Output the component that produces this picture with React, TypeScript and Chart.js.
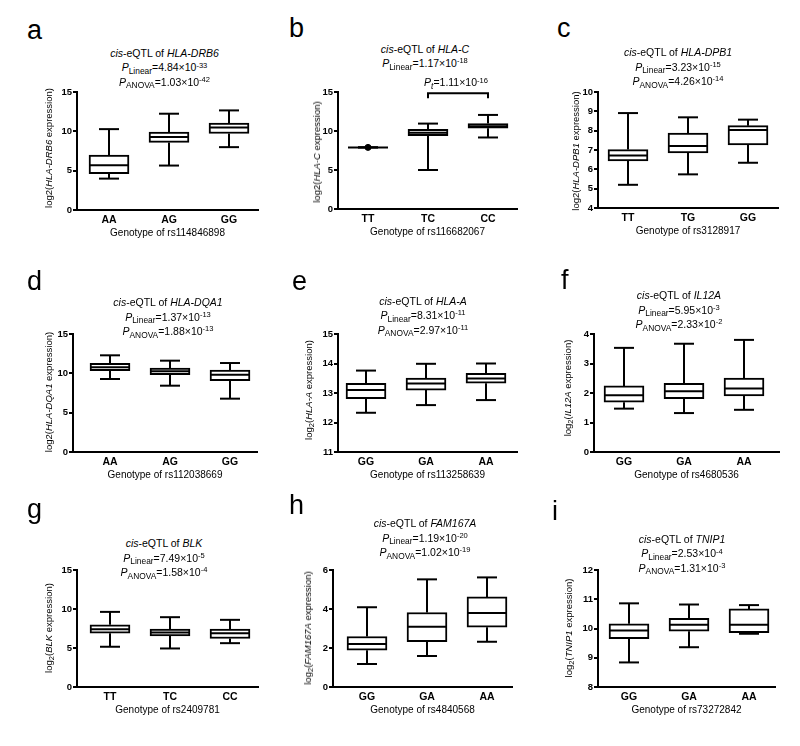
import React, { useEffect, useRef } from 'react';
import { Chart, registerables } from 'chart.js';
Chart.register(...registerables);

const FONT = '"Liberation Sans", Arial, Helvetica, sans-serif';

// ---------- data: five-number summaries [min, q1, median, q3, max] ----------
const A_GENO = ['AA', 'AG', 'GG'];
const A_BOX = [[3.99, 4.63, 5.69, 6.97, 10.28], [5.65, 8.59, 9.27, 9.9, 12.24], [7.99, 9.73, 10.5, 11.05, 12.66]];
const B_GENO = ['TT', 'TC', 'CC'];
const B_BOX = [[7.9, 7.9, 7.9, 7.9, 7.9], [5.0, 9.4, 9.77, 10.2, 10.95], [9.17, 10.36, 10.6, 10.95, 12.06]];
const B_POINTS = [{ x: 0, y: 7.9 }];
const B_BRACKET = [1, 2, 14.85, 14.2]; // from, to, level, leg end
const C_GENO = ['TT', 'TG', 'GG'];
const C_BOX = [[5.2, 6.43, 6.71, 7.02, 8.91], [5.74, 6.85, 7.21, 7.88, 8.69], [6.34, 7.26, 8.03, 8.26, 8.57]];
const D_GENO = ['AA', 'AG', 'GG'];
const D_BOX = [[9.28, 10.34, 10.76, 11.27, 12.29], [8.43, 9.83, 10.25, 10.68, 11.61], [6.78, 9.07, 9.83, 10.42, 11.31]];
const E_GENO = ['GG', 'GA', 'AA'];
const E_BOX = [[12.33, 12.81, 13.1, 13.33, 13.76], [12.59, 13.1, 13.32, 13.51, 13.99], [12.76, 13.33, 13.49, 13.67, 14.0]];
const F_GENO = ['GG', 'GA', 'AA'];
const F_BOX = [[1.47, 1.69, 1.92, 2.24, 3.53], [1.32, 1.81, 2.06, 2.33, 3.67], [1.43, 1.9, 2.15, 2.51, 3.8]];
const G_GENO = ['TT', 'TC', 'CC'];
const G_BOX = [[5.16, 6.9, 7.41, 7.97, 9.63], [4.94, 6.56, 6.99, 7.41, 8.95], [5.62, 6.22, 6.9, 7.41, 8.61]];
const H_GENO = ['GG', 'GA', 'AA'];
const H_BOX = [[1.18, 1.89, 2.2, 2.59, 4.09], [1.59, 2.32, 3.09, 3.82, 5.52], [2.32, 3.07, 3.8, 4.62, 5.62]];
const I_GENO = ['GG', 'GA', 'AA'];
const I_BOX = [[8.84, 9.65, 9.93, 10.16, 10.86], [9.36, 9.91, 10.13, 10.35, 10.82], [9.82, 9.86, 10.13, 10.67, 10.8]];

// y-axis ranges [min, max, step]
const A_Y = [0, 15, 5];
const B_Y = [0, 15, 5];
const C_Y = [4, 10, 1];
const D_Y = [0, 15, 5];
const E_Y = [11, 15, 1];
const F_Y = [0, 4, 1];
const G_Y = [0, 15, 5];
const H_Y = [0, 6, 2];
const I_Y = [8, 12, 1];

// ---------- layout ----------
const CAT_PX = 60;
const BOX_W = 40;
const CAP_W = 20;
const YW = 45;
const XH = 40;
const PT = 12;
const PR = 8;
const LINE_STEP = 14.3;

const PANELS: any[] = [
  { key: 'a', geno: A_GENO, box: A_BOX, yr: A_Y, l: 77, r: 258, t: 92, b: 210, cat0: 109, xTitle: 'Genotype of rs114846898', gene: 'HLA-DRB6', logSub: false, tcx: 164.5, tbase: 56.7, pl: ['4.84×10', '-33'], pa: ['1.03×10', '-42'], lx: 27, lb: 40, ycx: 49, ycy: 148 },
  { key: 'b', geno: B_GENO, box: B_BOX, yr: B_Y, l: 338, r: 517, t: 92, b: 209, cat0: 368, xTitle: 'Genotype of rs116682067', gene: 'HLA-C', logSub: false, tcx: 425, tbase: 52.5, pl: ['1.17×10', '-18'], pa: null, lx: 289, lb: 38, ycx: 316.5, ycy: 152, points: B_POINTS, bracket: B_BRACKET, pt: ['1.11×10', '-16'], ptcx: 456, ptbase: 86 },
  { key: 'c', geno: C_GENO, box: C_BOX, yr: C_Y, l: 598, r: 778, t: 92, b: 208, cat0: 628, xTitle: 'Genotype of rs3128917', gene: 'HLA-DPB1', logSub: false, tcx: 678, tbase: 56, pl: ['3.23×10', '-15'], pa: ['4.26×10', '-14'], lx: 557, lb: 38, ycx: 576, ycy: 151 },
  { key: 'd', geno: D_GENO, box: D_BOX, yr: D_Y, l: 73, r: 257, t: 334, b: 452, cat0: 110, xTitle: 'Genotype of rs112038669', gene: 'HLA-DQA1', logSub: false, tcx: 168, tbase: 306, pl: ['1.37×10', '-13'], pa: ['1.88×10', '-13'], lx: 27, lb: 291, ycx: 49, ycy: 392 },
  { key: 'e', geno: E_GENO, box: E_BOX, yr: E_Y, l: 338, r: 517, t: 334, b: 452, cat0: 366, xTitle: 'Genotype of rs113258639', gene: 'HLA-A', logSub: true, tcx: 423, tbase: 304.5, pl: ['8.31×10', '-11'], pa: ['2.97×10', '-11'], lx: 292, lb: 291, ycx: 309, ycy: 390 },
  { key: 'f', geno: F_GENO, box: F_BOX, yr: F_Y, l: 594, r: 779, t: 334, b: 452, cat0: 624, xTitle: 'Genotype of rs4680536', gene: 'IL12A', logSub: true, tcx: 679, tbase: 299, pl: ['5.95×10', '-3'], pa: ['2.33×10', '-2'], lx: 561, lb: 290, ycx: 567.5, ycy: 388 },
  { key: 'g', geno: G_GENO, box: G_BOX, yr: G_Y, l: 77, r: 258, t: 570, b: 687, cat0: 110, xTitle: 'Genotype of rs2409781', gene: 'BLK', logSub: true, tcx: 164, tbase: 547, pl: ['7.49×10', '-5'], pa: ['1.58×10', '-4'], lx: 27, lb: 519, ycx: 49, ycy: 628 },
  { key: 'h', geno: H_GENO, box: H_BOX, yr: H_Y, l: 333, r: 512, t: 570, b: 687, cat0: 367, xTitle: 'Genotype of rs4840568', gene: 'FAM167A', logSub: true, tcx: 425, tbase: 527, pl: ['1.19×10', '-20'], pa: ['1.02×10', '-19'], lx: 289, lb: 515, ycx: 308, ycy: 627.5 },
  { key: 'i', geno: I_GENO, box: I_BOX, yr: I_Y, l: 598, r: 775, t: 570, b: 687, cat0: 629, xTitle: 'Genotype of rs73272842', gene: 'TNIP1', logSub: true, tcx: 682, tbase: 542.7, pl: ['2.53×10', '-4'], pa: ['1.31×10', '-3'], lx: 552, lb: 521, ycx: 569, ycy: 628 },
];

function BoxChart({ p }: { p: any }) {
  const ref = useRef<HTMLCanvasElement>(null);
  const W = YW + (p.r - p.l) + PR;
  const H = PT + (p.b - p.t) + XH;
  useEffect(() => {
    const canvas = ref.current!;
    const xmin = -(p.cat0 - p.l) / CAT_PX;
    const xmax = xmin + (p.r - p.l) / CAT_PX;
    const whiskers = {
      id: 'whiskers',
      afterDatasetsDraw(chart: any) {
        const { ctx } = chart;
        const xs = chart.scales.x;
        const ys = chart.scales.y;
        const Y = (v: number) => ys.getPixelForValue(v);
        const seg = (x1: number, y1: number, x2: number, y2: number) => {
          ctx.beginPath();
          ctx.moveTo(x1, y1);
          ctx.lineTo(x2, y2);
          ctx.stroke();
        };
        ctx.save();
        ctx.strokeStyle = '#000';
        ctx.lineWidth = 2;
        ctx.lineCap = 'butt';
        p.box.forEach((s: number[], i: number) => {
          const [mn, q1, md, q3, mx] = s;
          const cx = Math.round(xs.getPixelForValue(i));
          seg(cx, Y(q3), cx, Y(mx));
          seg(cx - CAP_W / 2, Y(mx), cx + CAP_W / 2, Y(mx));
          seg(cx, Y(q1), cx, Y(mn));
          seg(cx - CAP_W / 2, Y(mn), cx + CAP_W / 2, Y(mn));
          seg(cx - BOX_W / 2, Y(md), cx + BOX_W / 2, Y(md));
        });
        if (p.bracket) {
          const [from, to, lvl, leg] = p.bracket;
          const x1 = Math.round(xs.getPixelForValue(from));
          const x2 = Math.round(xs.getPixelForValue(to));
          ctx.beginPath();
          ctx.moveTo(x1, Y(leg));
          ctx.lineTo(x1, Y(lvl));
          ctx.lineTo(x2, Y(lvl));
          ctx.lineTo(x2, Y(leg));
          ctx.stroke();
        }
        ctx.restore();
      },
    };
    const datasets: any[] = [
      {
        type: 'bar',
        data: p.box.map((s: number[], i: number) => ({ x: i, y: [s[1], s[3]] })),
        backgroundColor: '#fff',
        borderColor: '#000',
        borderWidth: 2,
        borderSkipped: false,
        barThickness: BOX_W,
      },
    ];
    if (p.points) {
      datasets.push({
        type: 'scatter',
        data: p.points,
        pointRadius: 3,
        backgroundColor: '#000',
        borderColor: '#000',
      });
    }
    const chart = new Chart(canvas, {
      type: 'bar',
      data: { datasets },
      options: {
        responsive: false,
        animation: false,
        devicePixelRatio: 1,
        events: [],
        layout: { padding: { left: 0, top: PT, right: PR, bottom: 0 } },
        plugins: { legend: { display: false }, tooltip: { enabled: false }, title: { display: false } },
        scales: {
          x: {
            type: 'linear',
            min: xmin,
            max: xmax,
            offset: false,
            afterBuildTicks: (s: any) => {
              s.ticks = p.geno.map((_: string, i: number) => ({ value: i }));
            },
            afterFit: (s: any) => {
              s.height = XH;
            },
            ticks: {
              callback: (_v: any, i: number) => p.geno[i],
              font: { family: FONT, size: 10.5, weight: 'bold' },
              color: '#000',
              padding: 4,
              maxRotation: 0,
              autoSkip: false,
            },
            grid: { display: false, drawTicks: false },
            border: { display: true, color: '#000', width: 2 },
            title: {
              display: true,
              text: p.xTitle,
              color: '#000',
              font: { family: FONT, size: 10 },
              padding: { top: 0, bottom: XH - 23 - 6 },
            },
          },
          y: {
            type: 'linear',
            min: p.yr[0],
            max: p.yr[1],
            afterFit: (s: any) => {
              s.width = YW;
            },
            ticks: {
              stepSize: p.yr[2],
              font: { family: FONT, size: 9.5, weight: 'bold' },
              color: '#000',
              padding: 1,
            },
            grid: { display: true, drawOnChartArea: false, drawTicks: true, tickLength: 4, color: '#000', lineWidth: 2 },
            border: { display: true, color: '#000', width: 2 },
          },
        },
      } as any,
      plugins: [whiskers],
    });
    return () => chart.destroy();
  }, []);
  return (
    <canvas
      ref={ref}
      width={W}
      height={H}
      style={{ position: 'absolute', left: p.l - YW, top: p.t - PT, width: W, height: H }}
    />
  );
}

const Sub = ({ children }: any) => (
  <span style={{ fontSize: '0.8em', position: 'relative', top: '0.3em', lineHeight: 0 }}>{children}</span>
);
const Sup = ({ children }: any) => (
  <span style={{ fontSize: '0.72em', position: 'relative', top: '-0.5em', lineHeight: 0 }}>{children}</span>
);

function TextLine({ cx, base, children }: any) {
  return (
    <div
      style={{
        position: 'absolute',
        left: cx - 150,
        width: 300,
        top: base - 10.6,
        textAlign: 'center',
        fontSize: 10.5,
        lineHeight: '14px',
        whiteSpace: 'nowrap',
      }}
    >
      {children}
    </div>
  );
}

function Overlay({ p }: { p: any }) {
  return (
    <>
      <div style={{ position: 'absolute', left: p.lx, top: p.lb - 22.8, fontSize: 27, lineHeight: '27px' }}>{p.key}</div>
      <TextLine cx={p.tcx} base={p.tbase}>
        <i>cis</i>-eQTL of <i>{p.gene}</i>
      </TextLine>
      <TextLine cx={p.tcx} base={p.tbase + LINE_STEP}>
        <i>P</i>
        <Sub>Linear</Sub>={p.pl[0]}
        <Sup>{p.pl[1]}</Sup>
      </TextLine>
      {p.pa && (
        <TextLine cx={p.tcx} base={p.tbase + 2 * LINE_STEP}>
          <i>P</i>
          <Sub>ANOVA</Sub>={p.pa[0]}
          <Sup>{p.pa[1]}</Sup>
        </TextLine>
      )}
      {p.pt && (
        <TextLine cx={p.ptcx} base={p.ptbase}>
          <i>P</i>
          <Sub>
            <i>t</i>
          </Sub>
          ={p.pt[0]}
          <Sup>{p.pt[1]}</Sup>
        </TextLine>
      )}
      <div
        style={{
          position: 'absolute',
          left: p.ycx,
          top: p.ycy,
          transform: 'translate(-50%, -50%) rotate(-90deg)',
          whiteSpace: 'nowrap',
          fontSize: 9.5,
          lineHeight: '12px',
        }}
      >
        {p.logSub ? (
          <>
            log<Sub>2</Sub>(
          </>
        ) : (
          'log2('
        )}
        <i>{p.gene}</i> expression)
      </div>
    </>
  );
}

export default function App() {
  return (
    <div
      style={{
        position: 'absolute',
        left: 0,
        top: 0,
        width: 800,
        height: 746,
        overflow: 'hidden',
        background: '#fff',
        color: '#000',
        fontFamily: FONT,
      }}
    >
      {PANELS.map((p) => (
        <BoxChart key={p.key} p={p} />
      ))}
      {PANELS.map((p) => (
        <Overlay key={'o' + p.key} p={p} />
      ))}
    </div>
  );
}
